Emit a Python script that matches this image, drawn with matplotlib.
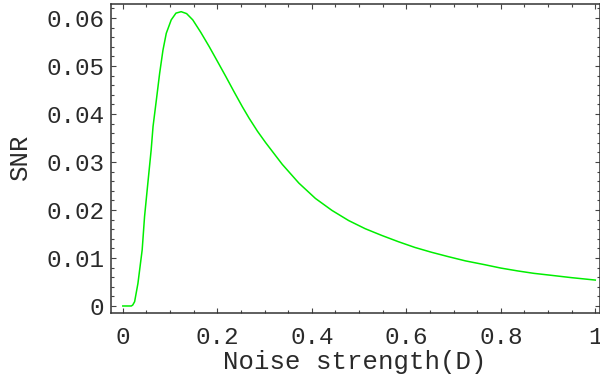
import matplotlib
matplotlib.use("Agg")
import matplotlib.pyplot as plt
from matplotlib.ticker import MultipleLocator, FixedLocator, FixedFormatter

# Data
noise_D = [0, 0.018, 0.021, 0.025, 0.032, 0.041, 0.046, 0.053, 0.060, 0.064,
           0.071, 0.078, 0.085, 0.092, 0.1025, 0.1125, 0.1235, 0.135, 0.148,
           0.165, 0.183, 0.200, 0.218, 0.235, 0.253, 0.2674, 0.285, 0.3025,
           0.3375, 0.3726, 0.4077, 0.4428, 0.4779, 0.513, 0.548, 0.583, 0.618,
           0.653, 0.688, 0.725, 0.766, 0.800, 0.836, 0.870, 0.906, 0.950, 1.0]
snr = [0, 0, 0.0002, 0.0009, 0.0047, 0.0117, 0.0186, 0.0256, 0.0325, 0.0374,
       0.0429, 0.0485, 0.0533, 0.0568, 0.0596, 0.0610, 0.0613, 0.0609, 0.0596,
       0.0570, 0.0540, 0.0510, 0.0478, 0.0447, 0.0415, 0.0391, 0.0364, 0.0340,
       0.0295, 0.0256, 0.0224, 0.0199, 0.0178, 0.0161, 0.0147, 0.0134, 0.0122,
       0.0112, 0.0103, 0.0094, 0.0086, 0.0079, 0.0073, 0.0068, 0.0064, 0.0059,
       0.0054]

x_ticks = [0, 0.2, 0.4, 0.6, 0.8, 1.0]
x_tick_labels = ["0", "0.2", "0.4", "0.6", "0.8", "1"]
y_ticks = [0, 0.01, 0.02, 0.03, 0.04, 0.05, 0.06]
y_tick_labels = ["0", "0.01", "0.02", "0.03", "0.04", "0.05", "0.06"]

FONT = "Liberation Mono"
TXT = "#2a2a2a"
W, H = 600, 378
fig = plt.figure(figsize=(W / 100, H / 100), dpi=100)
left, right, top, bottom = 111, 600, 4, 313
ax = fig.add_axes([left / W, (H - bottom) / H, (right - left) / W, (bottom - top) / H])

ax.plot(noise_D, snr, color="#00ee00", lw=1.1)

ax.set_xlim(-0.025, 1.01)
ax.set_ylim(-0.00146, 0.0629)

ax.xaxis.set_major_locator(FixedLocator(x_ticks))
ax.xaxis.set_major_formatter(FixedFormatter(x_tick_labels))
ax.xaxis.set_minor_locator(MultipleLocator(0.05))
ax.yaxis.set_major_locator(FixedLocator(y_ticks))
ax.yaxis.set_major_formatter(FixedFormatter(y_tick_labels))
ax.yaxis.set_minor_locator(MultipleLocator(0.002))

ax.tick_params(which="both", direction="in", top=True, right=True,
               color="#444444", width=0.8)
ax.tick_params(which="major", length=3.5, labelsize=17.5)
ax.tick_params(which="minor", length=2.0)
ax.tick_params(axis="y", which="major", pad=5)
ax.tick_params(axis="x", which="major", pad=9)
for lab in ax.get_xticklabels() + ax.get_yticklabels():
    lab.set_fontfamily(FONT)
    lab.set_color(TXT)

for s in ax.spines.values():
    s.set_linewidth(1.1)
    s.set_color("#333333")

fig.text(355 / W, (H - 369) / H, "Noise strength(D)", fontfamily=FONT,
         fontsize=18.5, color=TXT, ha="center", va="baseline")
fig.text(20 / W, (H - 157) / H, "SNR", fontfamily=FONT, fontsize=18.5,
         color=TXT, ha="center", va="center", rotation=90)

fig.savefig("out.png", dpi=100)
